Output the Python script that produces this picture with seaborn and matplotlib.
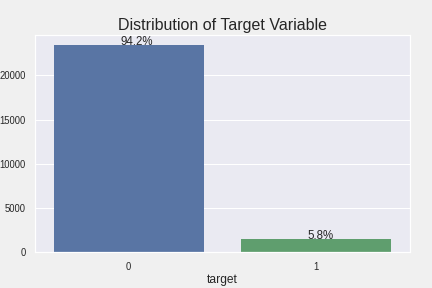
import matplotlib
matplotlib.use("Agg")
import matplotlib.pyplot as plt
import seaborn as sns
import pandas as pd

categories = [0, 1]
counts = [23400, 1440]
title = "Distribution of Target Variable"
bar_colors = ["#4C72B0", "#55A868"]

sns.set_theme(style="darkgrid")
plt.rcParams['font.family'] = ['Liberation Sans', 'DejaVu Sans']

df = pd.DataFrame({"target": categories, "count": counts})

fig = plt.figure(figsize=(6, 4), dpi=72, facecolor="#f0f0f0")
ax = fig.add_axes([0.081, 0.125, 0.868, 0.753])
sns.barplot(data=df, x="target", y="count", hue="target", palette=bar_colors,
            saturation=0.75, legend=False, linewidth=0, ax=ax)
ax.set_ylabel("")
ax.set_xlabel("target", fontsize=12, color="#262626", labelpad=3)
ax.set_title(title, fontsize=16, color="#262626", pad=5)
ax.tick_params(axis="both", labelsize=9.5, colors="#262626")
total = sum(counts)
for p in ax.patches:
    h = p.get_height()
    ax.text(p.get_x() + p.get_width() / 2 - 0.045, h, f"{100*h/total:.1f}%",
            ha="left", va="baseline", fontsize=11.5, color="#262626")
fig.savefig("out.png", dpi=72, facecolor=fig.get_facecolor())
